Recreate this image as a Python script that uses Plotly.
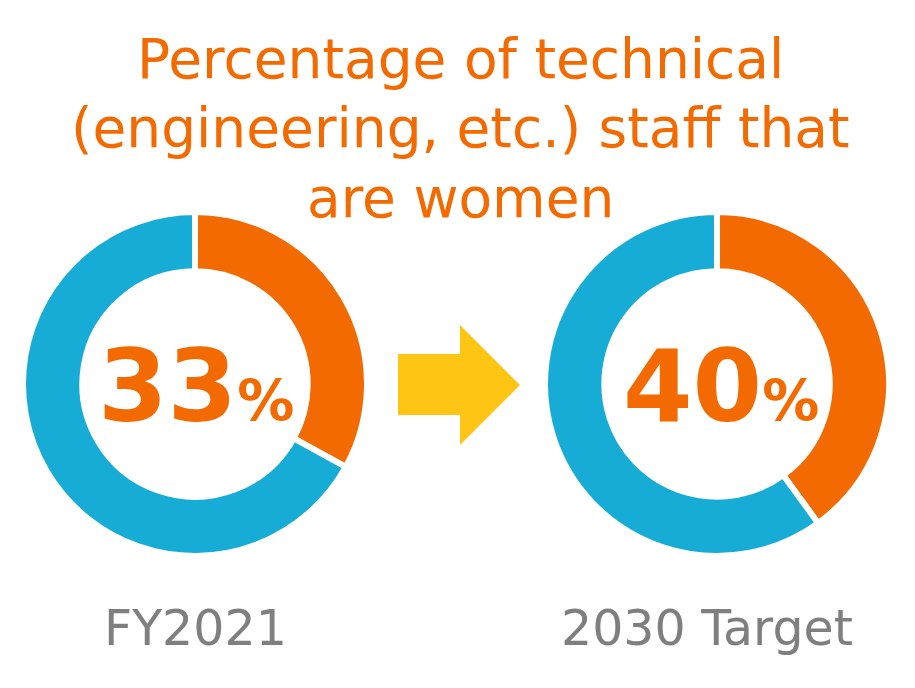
import plotly.graph_objects as go

W, H = 915, 688

title_lines = ["Percentage of technical", "(engineering, etc.) staff that", "are women"]
periods = ["FY2021", "2030 Target"]
women_pct = [33, 40]
other_pct = [67, 60]
slice_labels = ["Women", "Other"]

ORANGE = "#F36A00"
BLUE = "#17ACD6"
GRAY = "#7F7F7F"
ARROW = "#FFC514"
FONT = "DejaVu Sans"

def px(x):
    return x / W

def py(y):
    return 1 - y / H

fig = go.Figure()

centers = [(195, 384), (717, 384)]
R = 172
for (cx, cy), w, o in zip(centers, women_pct, other_pct):
    fig.add_trace(go.Pie(
        values=[w, o], labels=slice_labels, sort=False, direction="clockwise",
        rotation=0, hole=0.655,
        marker=dict(colors=[ORANGE, BLUE], line=dict(color="white", width=6)),
        textinfo="none", hoverinfo="label+percent", showlegend=False,
        domain=dict(x=[px(cx - R), px(cx + R)], y=[py(cy + R), py(cy - R)]),
    ))

# title lines
for line, yc in zip(title_lines, [59, 128, 198]):
    fig.add_annotation(text=line, x=px(460), y=py(yc), xref="paper", yref="paper",
                       xanchor="center", yanchor="middle", showarrow=False,
                       font=dict(family=FONT, size=55, color=ORANGE))

# centre values
for (cx, cy), w, dx in zip(centers, women_pct, [1, 4]):
    fig.add_annotation(
        text=f"<b>{w}</b><b><span style='font-size:57px'>%</span></b>",
        x=px(cx + dx), y=py(cy + 2), xref="paper", yref="paper",
        xanchor="center", yanchor="middle", showarrow=False,
        font=dict(family=FONT, size=100, color=ORANGE))

# period labels
for lab, xc in zip(periods, [195, 707]):
    fig.add_annotation(text=lab, x=px(xc), y=py(628), xref="paper", yref="paper",
                       xanchor="center", yanchor="middle", showarrow=False,
                       font=dict(family=FONT, size=49, color=GRAY))

# arrow
path = (f"M {px(398)} {py(354)} L {px(460)} {py(354)} L {px(460)} {py(325)} "
        f"L {px(520)} {py(385)} L {px(460)} {py(445)} L {px(460)} {py(415)} "
        f"L {px(398)} {py(415)} Z")
fig.add_shape(type="path", path=path, xref="paper", yref="paper",
              fillcolor=ARROW, line=dict(width=0))

fig.update_layout(width=W, height=H, margin=dict(l=0, r=0, t=0, b=0),
                  paper_bgcolor="white", plot_bgcolor="white",
                  xaxis=dict(visible=False), yaxis=dict(visible=False))

fig.write_html("out.html", config={"displayModeBar": False},
               post_script="document.body.style.margin='0';document.body.style.overflow='hidden';")
